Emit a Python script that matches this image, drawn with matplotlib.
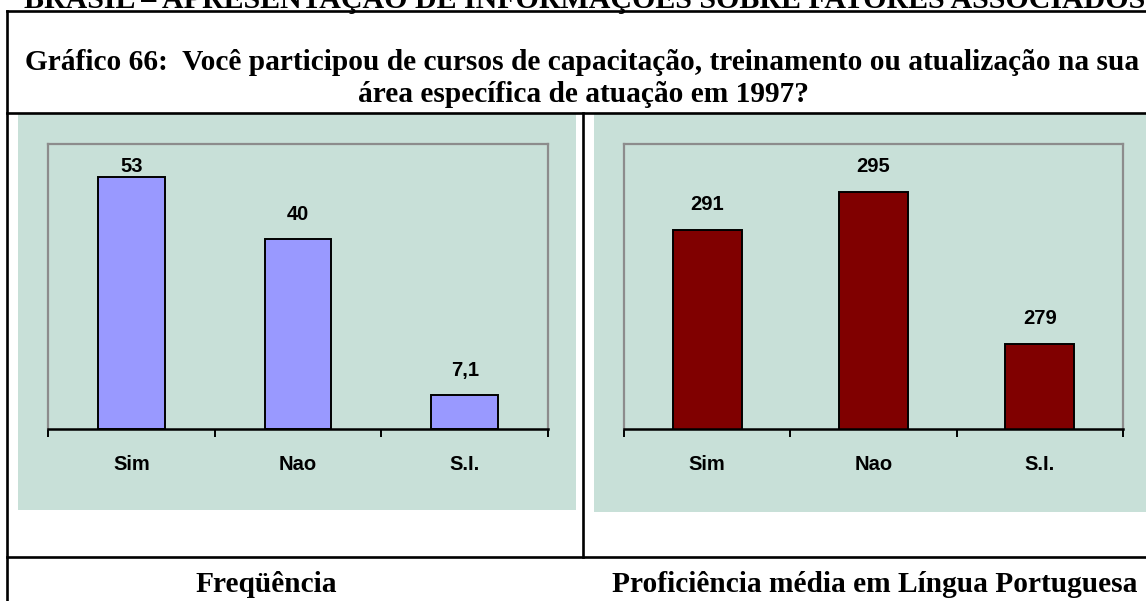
import matplotlib
matplotlib.use("Agg")
import matplotlib.pyplot as plt
from matplotlib.lines import Line2D
from matplotlib.patches import Rectangle

# ---------------- data ----------------
categories = ["Sim", "Nao", "S.I."]
freq_values = [53, 40, 7.1]
freq_labels = ["53", "40", "7,1"]
prof_values = [291, 295, 279]
prof_labels = ["291", "295", "279"]

header_text = "BRASIL – APRESENTAÇÃO DE INFORMAÇÕES SOBRE FATORES ASSOCIADOS"
title_line1 = "Gráfico 66:  Você participou de cursos de capacitação, treinamento ou atualização na sua"
title_line2 = "área específica de atuação em 1997?"
caption_left = "Freqüência"
caption_right = "Proficiência média em Língua Portuguesa"

# ---------------- styles ----------------
W, H = 1146, 601
DPI = 100
GREEN = "#C8E0D8"
BLUE = "#9999FF"
MAROON = "#800000"
SERIF = ["Liberation Serif", "DejaVu Serif"]
SANS = ["Liberation Sans", "DejaVu Sans"]

fig = plt.figure(figsize=(W / DPI, H / DPI), dpi=DPI)
fig.patch.set_facecolor("white")

def fx(x):
    return x / W

def fy(y):
    return 1 - y / H

# green panels
for (x0, y0, x1, y1) in [(18, 114, 576, 510), (594, 114, 1146, 512)]:
    fig.patches.append(Rectangle((fx(x0), fy(y1)), fx(x1) - fx(x0), fy(y0) - fy(y1),
                                 transform=fig.transFigure, facecolor=GREEN,
                                 edgecolor="none", zorder=-5))

# frame lines
LW = 1.9
segments = [((7, 11), (1146, 11)), ((7, 11), (7, 601)), ((7, 113), (1146, 113)),
            ((7, 557), (1146, 557)), ((583, 113), (583, 557))]
for (a, b) in segments:
    fig.add_artist(Line2D([fx(a[0]), fx(b[0])], [fy(a[1]), fy(b[1])],
                          transform=fig.transFigure, color="black", lw=LW,
                          solid_capstyle="projecting", zorder=5))

fig.canvas.draw()
renderer = fig.canvas.get_renderer()

def fit_text(x0, x1, y_base, s, family, weight="bold"):
    t = fig.text(fx((x0 + x1) / 2), fy(y_base), s, ha="center", va="baseline",
                 fontsize=20, family=family, weight=weight, zorder=6)
    bb = t.get_window_extent(renderer)
    t.set_fontsize(20 * (x1 - x0) / bb.width)
    return t

fit_text(27, 1143, 8, header_text, SERIF)
t1 = fit_text(26, 1139, 70, title_line1, SERIF)
fig.text(fx(583), fy(102), title_line2, ha="center", va="baseline",
         family=SERIF, weight="bold", fontsize=t1.get_fontsize(), zorder=6)
tr = fit_text(612, 1138, 592, caption_right, SERIF)
fig.text(fx(266), fy(592), caption_left, ha="center", va="baseline",
         family=SERIF, weight="bold", fontsize=tr.get_fontsize(), zorder=6)

def make_chart(x0, x1, values, labels, color, ylim, bar_w):
    y0, y1 = 144, 429
    ax = fig.add_axes([fx(x0), fy(y1), fx(x1) - fx(x0), fy(y0) - fy(y1)])
    ax.set_facecolor("none")
    pos = list(range(len(categories)))
    ax.bar(pos, values, width=bar_w, color=color, edgecolor="black", linewidth=1.4,
           zorder=3)
    ax.set_xlim(-0.5, len(categories) - 0.5)
    ax.set_ylim(*ylim)
    for s in ["top", "left", "right"]:
        ax.spines[s].set_color("#8C8C8C")
        ax.spines[s].set_linewidth(1.6)
    ax.spines["bottom"].set_color("black")
    ax.spines["bottom"].set_linewidth(1.8)
    ax.spines["bottom"].set_zorder(4)
    ax.set_yticks([])
    ax.set_xticks([p - 0.5 for p in pos] + [pos[-1] + 0.5])
    ax.set_xticklabels([])
    ax.tick_params(axis="x", which="major", length=5.5, width=1.4, direction="out",
                   color="black")
    ax.set_xticks(pos, minor=True)
    ax.set_xticklabels(categories, minor=True, fontsize=14.5, fontweight="bold",
                       family=SANS)
    ax.tick_params(axis="x", which="minor", length=0, pad=19)
    plot_h_px = y1 - y0
    for p, v, lab in zip(pos, values, labels):
        bar_top_px = (v - ylim[0]) / (ylim[1] - ylim[0]) * plot_h_px
        gap_above = plot_h_px - bar_top_px
        off_px = min(25, gap_above - 22)
        ax.annotate(lab, (p, v), xytext=(0, off_px * 72 / DPI), textcoords="offset points",
                    ha="center", va="center", fontsize=14.5, fontweight="bold",
                    family=SANS, zorder=4)
    return ax

make_chart(48, 548, freq_values, freq_labels, BLUE, (0, 60), 0.4)
make_chart(624, 1123, prof_values, prof_labels, MAROON, (270, 300), 0.415)

fig.savefig("out.png", dpi=DPI, facecolor="white")
